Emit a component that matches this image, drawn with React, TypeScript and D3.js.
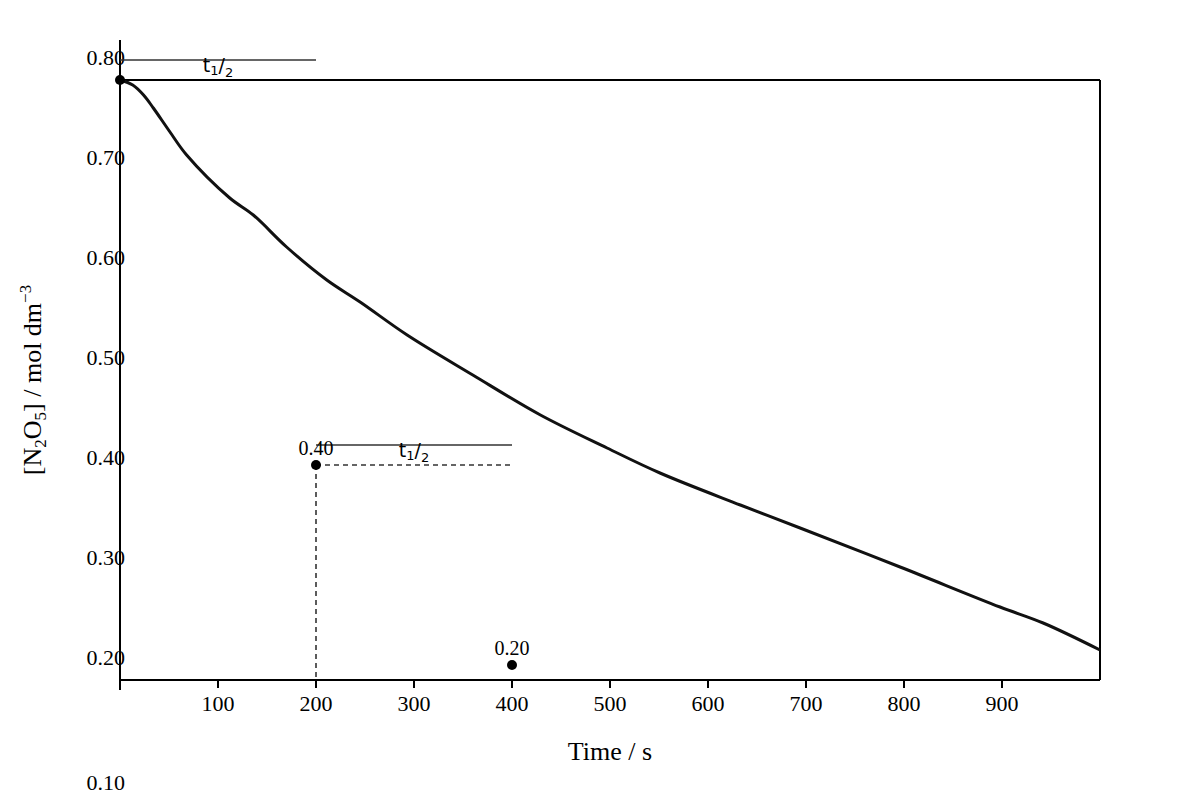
import React from "react";
import * as d3 from "d3";

const timeValues = [0, 13, 24, 34, 51, 68, 112, 136, 170, 211, 245, 293, 360, 429, 497, 551, 633, 694, 796, 898, 942, 1000];
const concValues = [0.785, 0.78, 0.77, 0.757, 0.733, 0.71, 0.667, 0.65, 0.618, 0.585, 0.563, 0.53, 0.49, 0.45, 0.417, 0.392, 0.36, 0.337, 0.298, 0.258, 0.242, 0.215];
const xTicks = [100, 200, 300, 400, 500, 600, 700, 800, 900];
const yTickLabels = ["0.80", "0.70", "0.60", "0.50", "0.40", "0.30", "0.20"];
const yTickValues = [0.8, 0.7, 0.6, 0.5, 0.4, 0.3, 0.2];
const extraYLabel = { value: 0.1, text: "0.10" };
const markedPoints = [
  { t: 0, c: 0.785, label: "" },
  { t: 200, c: 0.4, label: "0.40" },
  { t: 400, c: 0.2, label: "0.20" },
];
const halfLives = [
  { t0: 0, t1: 200, c: 0.805 },
  { t0: 200, t1: 400, c: 0.42 },
];

const FONT = "'Liberation Serif', 'Times New Roman', serif";

export default function App() {
  const x = d3.scaleLinear().domain([0, 1000]).range([120, 1100]);
  const y = d3.scaleLinear().domain([0.8, 0.2]).range([65, 665]);
  const data = timeValues.map((t, i) => [t, concValues[i]] as [number, number]);
  const line = d3
    .line<[number, number]>()
    .x((d) => x(d[0]))
    .y((d) => y(d[1]))
    .curve(d3.curveCatmullRom.alpha(0.5));

  const top = 80;
  const bottom = 680;

  return (
    <svg width={1200} height={800} style={{ position: "absolute", left: 0, top: 0, background: "#fff" }} fontFamily={FONT}>
      {/* frame */}
      <line x1={x(0)} x2={x(1000)} y1={top} y2={top} stroke="#000" strokeWidth={2} />
      <line x1={x(1000)} x2={x(1000)} y1={top} y2={bottom} stroke="#000" strokeWidth={2} />
      <line x1={x(0)} x2={x(1000)} y1={bottom} y2={bottom} stroke="#000" strokeWidth={2} />
      <line x1={x(0)} x2={x(0)} y1={40} y2={690} stroke="#000" strokeWidth={2} />

      {/* x ticks */}
      {xTicks.map((t) => (
        <g key={t}>
          <line x1={x(t)} x2={x(t)} y1={bottom} y2={688} stroke="#000" strokeWidth={2} />
          <text x={x(t)} y={711} textAnchor="middle" fontSize={22} fill="#000">
            {t}
          </text>
        </g>
      ))}

      {/* y tick labels */}
      {yTickValues.map((v, i) => (
        <text key={v} x={125} y={y(v)} textAnchor="end" fontSize={22} fill="#000">
          {yTickLabels[i]}
        </text>
      ))}
      <text x={125} y={y(extraYLabel.value) + 25} textAnchor="end" fontSize={22} fill="#000">
        {extraYLabel.text}
      </text>

      {/* half-life annotations */}
      {halfLives.map((h, i) => (
        <g key={i}>
          <line x1={x(h.t0)} x2={x(h.t1)} y1={y(h.c)} y2={y(h.c)} stroke="#333" strokeWidth={1.6} />
          <text x={(x(h.t0) + x(h.t1)) / 2} y={y(h.c) + 12} textAnchor="middle" fontSize={19} fill="#000" fontFamily="'DejaVu Sans', sans-serif">
            t
            <tspan fontSize={13} dy={3}>1</tspan>
            <tspan fontSize={19} dy={-3}>/</tspan>
            <tspan fontSize={13} dy={5}>2</tspan>
          </text>
        </g>
      ))}

      {/* dashed guides */}
      <line x1={x(200)} x2={x(400)} y1={y(0.4)} y2={y(0.4)} stroke="#333" strokeWidth={1.6} strokeDasharray="5,4" />
      <line x1={x(200)} x2={x(200)} y1={y(0.4)} y2={bottom} stroke="#333" strokeWidth={1.6} strokeDasharray="5,4" />

      {/* curve */}
      <path d={line(data) ?? ""} fill="none" stroke="#111" strokeWidth={3} />

      {/* points */}
      {markedPoints.map((p, i) => (
        <g key={i}>
          <circle cx={x(p.t)} cy={y(p.c)} r={5} fill="#000" />
          {p.label && (
            <text x={x(p.t)} y={y(p.c) - 10} textAnchor="middle" fontSize={20} fill="#000">
              {p.label}
            </text>
          )}
        </g>
      ))}

      {/* axis titles */}
      <text x={610} y={760} textAnchor="middle" fontSize={26} fill="#000">
        Time / s
      </text>
      <text transform="translate(41,380) rotate(-90)" textAnchor="middle" fontSize={26} fill="#000">
        [N<tspan fontSize={17} dy={5}>2</tspan>
        <tspan dy={-5}>O</tspan>
        <tspan fontSize={17} dy={5}>5</tspan>
        <tspan dy={-5}>] / mol dm</tspan>
        <tspan fontSize={17} dy={-10}>−3</tspan>
      </text>
    </svg>
  );
}
